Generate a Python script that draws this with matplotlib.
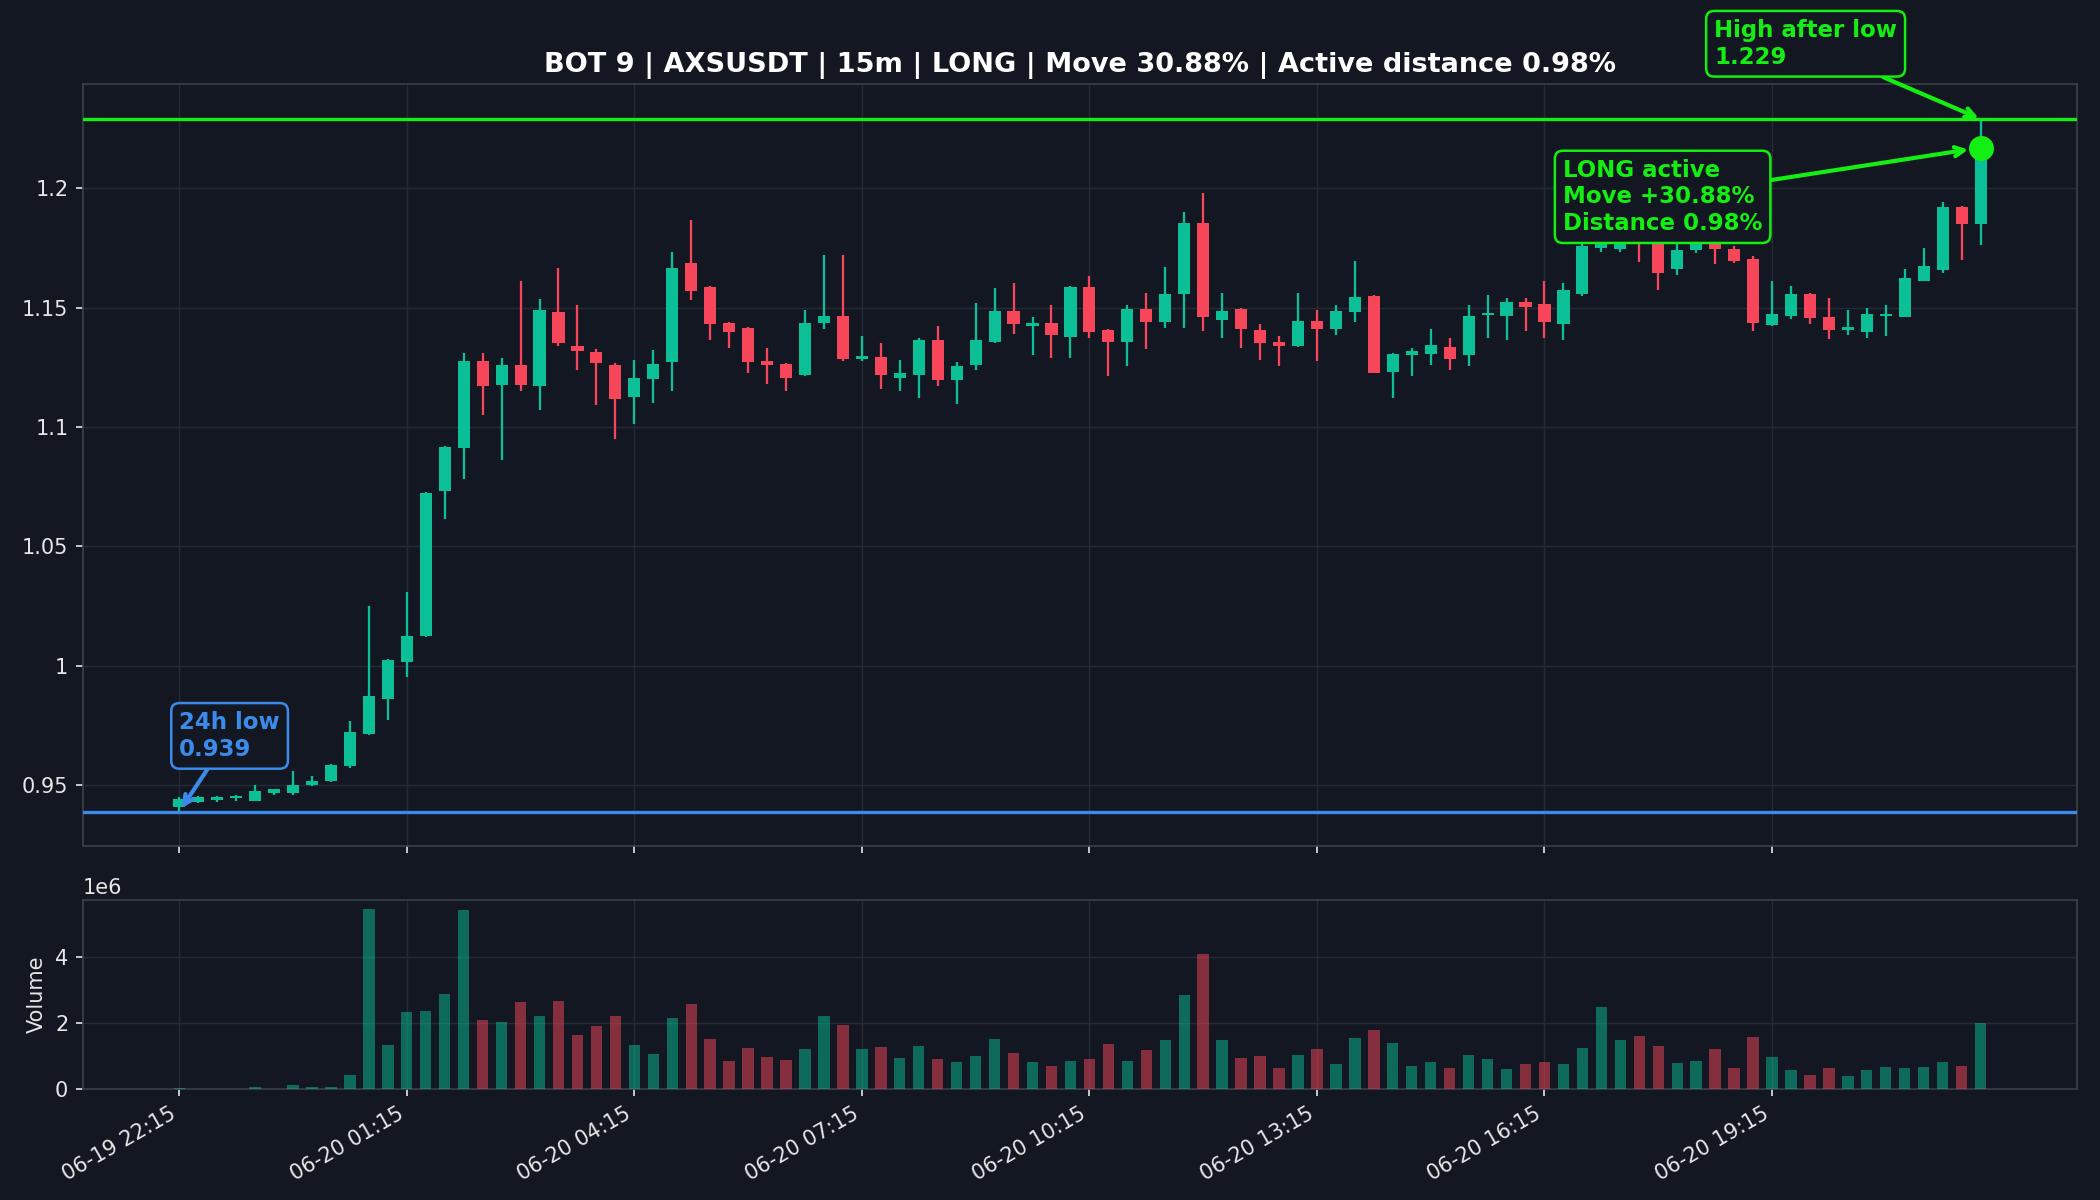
import numpy as np
import pandas as pd
import matplotlib
matplotlib.use("Agg")
import matplotlib.pyplot as plt
from matplotlib.ticker import FuncFormatter

# 캔들 데이터 (15m, AXSUSDT)
opens = [0.9410, 0.9430, 0.9438, 0.9446, 0.9436, 0.9467, 0.9467, 0.9500, 0.9519, 0.9580,
         0.9715, 0.9862, 1.0015, 1.0124, 1.0731, 1.0911, 1.1276, 1.1178, 1.1262, 1.1170,
         1.1482, 1.1340, 1.1315, 1.1262, 1.1128, 1.1200, 1.1271, 1.1688, 1.1587, 1.1437,
         1.1416, 1.1278, 1.1265, 1.1219, 1.1437, 1.1466, 1.1286, 1.1293, 1.1206, 1.1220,
         1.1365, 1.1198, 1.1258, 1.1356, 1.1487, 1.1425, 1.1437, 1.1379, 1.1587, 1.1407,
         1.1358, 1.1495, 1.1438, 1.1559, 1.1855, 1.1450, 1.1495, 1.1407, 1.1357, 1.1338,
         1.1444, 1.1409, 1.1481, 1.1548, 1.1229, 1.1300, 1.1308, 1.1335, 1.1300, 1.1470,
         1.1467, 1.1523, 1.1515, 1.1430, 1.1558, 1.1749, 1.1745, 1.1840, 1.1800, 1.1660,
         1.1740, 1.1790, 1.1746, 1.1704, 1.1427, 1.1465, 1.1556, 1.1463, 1.1408, 1.1399,
         1.1465, 1.1462, 1.1613, 1.1659, 1.1920, 1.1849]
highs = [0.9450, 0.9455, 0.9455, 0.9460, 0.9500, 0.9485, 0.9560, 0.9540, 0.9589, 0.9770,
         1.0252, 1.0028, 1.0310, 1.0730, 1.0920, 1.1310, 1.1310, 1.1288, 1.1610, 1.1538,
         1.1668, 1.1510, 1.1325, 1.1270, 1.1282, 1.1324, 1.1734, 1.1865, 1.1590, 1.1440,
         1.1418, 1.1332, 1.1270, 1.1491, 1.1721, 1.1721, 1.1382, 1.1353, 1.1282, 1.1372,
         1.1424, 1.1273, 1.1520, 1.1583, 1.1604, 1.1462, 1.1512, 1.1590, 1.1633, 1.1410,
         1.1512, 1.1562, 1.1669, 1.1900, 1.1980, 1.1561, 1.1500, 1.1431, 1.1382, 1.1561,
         1.1491, 1.1511, 1.1696, 1.1552, 1.1310, 1.1331, 1.1410, 1.1372, 1.1510, 1.1552,
         1.1541, 1.1541, 1.1612, 1.1603, 1.1790, 1.1880, 1.1900, 1.1880, 1.1850, 1.1800,
         1.1820, 1.1830, 1.1760, 1.1718, 1.1610, 1.1589, 1.1560, 1.1540, 1.1490, 1.1500,
         1.1510, 1.1662, 1.1751, 1.1944, 1.1925, 1.2290]
lows = [0.9390, 0.9425, 0.9432, 0.9435, 0.9435, 0.9460, 0.9458, 0.9498, 0.9515, 0.9572,
        0.9712, 0.9772, 0.9953, 1.0120, 1.0616, 1.0784, 1.1051, 1.0863, 1.1151, 1.1072,
        1.1341, 1.1240, 1.1093, 1.0951, 1.1014, 1.1102, 1.1153, 1.1534, 1.1363, 1.1333,
        1.1225, 1.1181, 1.1153, 1.1213, 1.1411, 1.1275, 1.1275, 1.1160, 1.1153, 1.1123,
        1.1174, 1.1095, 1.1240, 1.1353, 1.1391, 1.1303, 1.1290, 1.1290, 1.1375, 1.1212,
        1.1254, 1.1325, 1.1413, 1.1413, 1.1404, 1.1375, 1.1332, 1.1282, 1.1254, 1.1335,
        1.1275, 1.1384, 1.1442, 1.1225, 1.1123, 1.1212, 1.1262, 1.1241, 1.1254, 1.1375,
        1.1363, 1.1404, 1.1375, 1.1363, 1.1550, 1.1735, 1.1735, 1.1693, 1.1572, 1.1635,
        1.1730, 1.1682, 1.1686, 1.1401, 1.1425, 1.1451, 1.1430, 1.1370, 1.1387, 1.1372,
        1.1380, 1.1460, 1.1610, 1.1645, 1.1700, 1.1762]
closes = [0.9443, 0.9453, 0.9450, 0.9448, 0.9475, 0.9483, 0.9500, 0.9520, 0.9587, 0.9725,
          0.9875, 1.0025, 1.0125, 1.0726, 1.0916, 1.1276, 1.1171, 1.1262, 1.1178, 1.1490,
          1.1350, 1.1320, 1.1270, 1.1118, 1.1206, 1.1265, 1.1667, 1.1568, 1.1430, 1.1400,
          1.1271, 1.1258, 1.1206, 1.1437, 1.1466, 1.1286, 1.1297, 1.1220, 1.1227, 1.1365,
          1.1198, 1.1257, 1.1365, 1.1487, 1.1430, 1.1432, 1.1386, 1.1587, 1.1400, 1.1358,
          1.1495, 1.1438, 1.1558, 1.1855, 1.1459, 1.1485, 1.1409, 1.1350, 1.1338, 1.1444,
          1.1409, 1.1485, 1.1544, 1.1227, 1.1307, 1.1317, 1.1345, 1.1287, 1.1465, 1.1475,
          1.1523, 1.1502, 1.1438, 1.1575, 1.1760, 1.1850, 1.1830, 1.1790, 1.1647, 1.1740,
          1.1790, 1.1745, 1.1697, 1.1437, 1.1472, 1.1556, 1.1455, 1.1406, 1.1413, 1.1472,
          1.1472, 1.1624, 1.1676, 1.1920, 1.1849, 1.2170]
volumes = [0.02, 0.01, 0.01, 0.01, 0.05, 0.01, 0.12, 0.05, 0.05, 0.42,
           5.46, 1.33, 2.35, 2.38, 2.89, 5.43, 2.08, 2.02, 2.65, 2.20,
           2.68, 1.63, 1.90, 2.20, 1.33, 1.06, 2.14, 2.59, 1.51, 0.84,
           1.24, 0.96, 0.87, 1.21, 2.20, 1.93, 1.21, 1.27, 0.93, 1.30,
           0.90, 0.81, 0.99, 1.51, 1.09, 0.81, 0.69, 0.84, 0.90, 1.36,
           0.84, 1.18, 1.48, 2.86, 4.10, 1.48, 0.93, 0.99, 0.63, 1.03,
           1.21, 0.75, 1.54, 1.78, 1.39, 0.69, 0.81, 0.63, 1.03, 0.90,
           0.60, 0.75, 0.81, 0.75, 1.24, 2.50, 1.48, 1.60, 1.30, 0.78,
           0.84, 1.21, 0.63, 1.57, 0.96, 0.57, 0.42, 0.63, 0.39, 0.57,
           0.66, 0.63, 0.66, 0.81, 0.69, 1.99]  # 단위: 1e6

low_24h = 0.939
high_after = 1.229
active_price = 1.217

times = pd.date_range("2024-06-19 22:15", periods=len(closes), freq="15min")

# 스타일
bg = "#131722"
up = "#0bbf96"
down = "#f7455a"
txt = "#e6e6e6"
grid_c = "#262a35"
spine_c = "#3b3f4a"
lime = "#13ee13"
blue = "#3b8beb"

o = np.array(opens)
h = np.array(highs)
l = np.array(lows)
c = np.array(closes)
v = np.array(volumes) * 1e6
x = np.arange(len(c))
cols = np.where(c >= o, up, down)

fig = plt.figure(figsize=(14, 8), dpi=150, facecolor=bg)
gs = fig.add_gridspec(2, 1, height_ratios=[4.03, 1], hspace=0.113)
ax = fig.add_subplot(gs[0])
axv = fig.add_subplot(gs[1], sharex=ax)
fig.subplots_adjust(left=0.0395, right=0.989, top=0.9297, bottom=0.0925)

for a in (ax, axv):
    a.set_facecolor(bg)
    a.grid(True, color=grid_c, linewidth=0.7)
    a.set_axisbelow(True)
    for s in a.spines.values():
        s.set_color(spine_c)
    a.tick_params(colors=txt, labelsize=10)

# 캔들
ax.vlines(x, l, h, color=cols, linewidth=1.1, zorder=2)
body = np.maximum(np.abs(c - o), 0.0009)
ax.bar(x, body, bottom=np.minimum(o, c), width=0.64, color=cols, zorder=3)

ax.axhline(high_after, color=lime, linewidth=1.6, zorder=4)
ax.axhline(low_24h, color=blue, linewidth=1.6, zorder=4)
ax.plot(x[-1], active_price, "o", color=lime, markersize=11, zorder=6)

ax.set_xlim(-5.08, 100.08)
ax.set_ylim(0.9245, 1.2435)
ax.yaxis.set_major_formatter(FuncFormatter(lambda val, pos: f"{val:g}"))
ax.tick_params(labelbottom=False)
ax.set_title("BOT 9 | AXSUSDT | 15m | LONG | Move 30.88% | Active distance 0.98%",
             color="white", fontsize=13, fontweight="bold", pad=6)

# 주석
ax.annotate("24h low\n0.939", xy=(0, low_24h), xytext=(0, 0.9707),
            ha="left", va="center", color=blue, fontsize=11, fontweight="bold",
            bbox=dict(boxstyle="round,pad=0.35", fc=bg, ec=blue, lw=1.2),
            arrowprops=dict(arrowstyle="->", color=blue, lw=2, shrinkA=0, shrinkB=2),
            zorder=7)
ax.annotate("High after low\n1.229", xy=(x[-1], high_after), xytext=(80.95, 1.2605),
            ha="left", va="center", color=lime, fontsize=11, fontweight="bold",
            bbox=dict(boxstyle="round,pad=0.35", fc=bg, ec=lime, lw=1.2),
            arrowprops=dict(arrowstyle="->", color=lime, lw=2, shrinkA=0, shrinkB=1),
            annotation_clip=False, zorder=7)
ax.annotate("LONG active\nMove +30.88%\nDistance 0.98%", xy=(x[-1], active_price),
            xytext=(72.97, 1.1964), ha="left", va="center", color=lime, fontsize=11,
            fontweight="bold",
            bbox=dict(boxstyle="round,pad=0.35", fc=bg, ec=lime, lw=1.2),
            arrowprops=dict(arrowstyle="->", color=lime, lw=2, shrinkA=0, shrinkB=6),
            zorder=7)

# 거래량
axv.bar(x, v, width=0.6, color=cols, alpha=0.5, zorder=3)
axv.set_ylim(0, v.max() * 1.05)
axv.set_ylabel("Volume", color=txt, fontsize=10)
axv.yaxis.get_offset_text().set_color(txt)
axv.yaxis.get_offset_text().set_fontsize(10)

ticks = x[::12]
axv.set_xticks(ticks)
axv.set_xticklabels([t.strftime("%m-%d %H:%M") for t in times[::12]],
                    rotation=30, ha="right")

fig.savefig("out.png", dpi=150, facecolor=bg)
